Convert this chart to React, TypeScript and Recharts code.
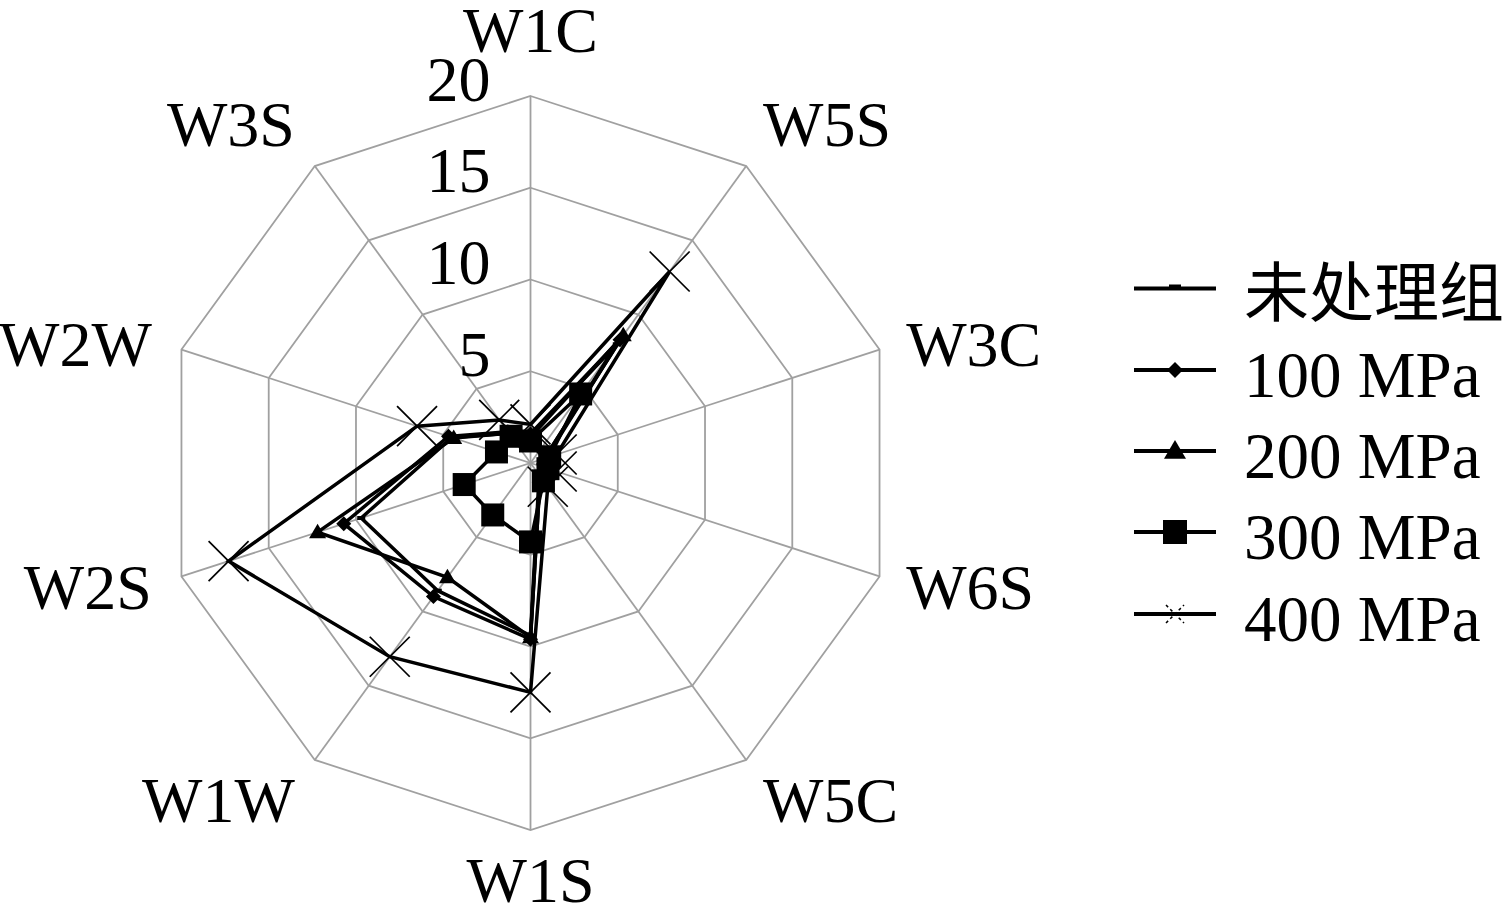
import React from 'react';
import { RadarChart, Radar, PolarGrid, PolarAngleAxis, PolarRadiusAxis, Legend } from 'recharts';

// ---------- data ----------
const categories = ['W1C', 'W5S', 'W3C', 'W6S', 'W5C', 'W1S', 'W1W', 'W2S', 'W2W', 'W3S'];
const untreated = [1.5, 8.0, 0.8, 0.7, 0.8, 9.4, 8.6, 9.7, 4.5, 2.0];
const mpa100 = [1.6, 8.3, 0.9, 0.8, 0.9, 9.6, 9.0, 10.7, 4.7, 2.1];
const mpa200 = [1.4, 8.6, 0.8, 0.8, 0.9, 9.5, 7.7, 12.2, 4.4, 2.0];
const mpa300 = [1.2, 4.65, 1.1, 1.0, 1.2, 4.3, 3.5, 3.8, 1.95, 1.8];
const mpa400 = [2.1, 12.9, 1.5, 1.5, 1.6, 12.5, 13.05, 17.3, 6.5, 2.9];
const seriesNames = ['未处理组', '100 MPa', '200 MPa', '300 MPa', '400 MPa'];
const seriesKeys = ['s0', 's1', 's2', 's3', 's4'];
const markerKinds = ['dash', 'diamond', 'triangle', 'square', 'cross'];
const radiusTicks = [0, 5, 10, 15, 20];

const seriesValues = [untreated, mpa100, mpa200, mpa300, mpa400];
const data = categories.map((name, i) => {
  const row: any = { name };
  seriesKeys.forEach((k, j) => {
    row[k] = seriesValues[j][i];
  });
  return row;
});

// ---------- layout ----------
const W = 1506;
const H = 912;
const CX = 530.5;
const CY = 463;
const R = 367;
const MAX = 20;
const FONT = '"Liberation Serif", "Times New Roman", "Noto Sans CJK SC", serif';
const GRID = '#a0a0a0';

function marker(kind: string, cx: number, cy: number, key: any, legend = false) {
  switch (kind) {
    case 'dash':
      return legend ? (
        <rect key={key} x={cx - 6} y={cy - 4} width={12} height={4} fill="#000" />
      ) : (
        <rect key={key} x={cx - 4} y={cy - 2} width={8} height={4} fill="#000" />
      );
    case 'diamond': {
      const s = legend ? 8 : 7.5;
      return (
        <polygon key={key} points={`${cx},${cy - s} ${cx + s},${cy} ${cx},${cy + s} ${cx - s},${cy}`} fill="#000" />
      );
    }
    case 'triangle': {
      const s = legend ? 11 : 8.5;
      return (
        <polygon key={key} points={`${cx},${cy - s} ${cx + s},${cy + s * 0.7} ${cx - s},${cy + s * 0.7}`} fill="#000" />
      );
    }
    case 'square': {
      const s = legend ? 12 : 11.5;
      return <rect key={key} x={cx - s} y={cy - s} width={2 * s} height={2 * s} fill="#000" />;
    }
    case 'cross': {
      const s = legend ? 9 : 20;
      return (
        <g key={key} stroke="#000" strokeWidth={legend ? 1.5 : 1.7} strokeDasharray={legend ? '3 3' : undefined}>
          <line x1={cx - s} y1={cy - s} x2={cx + s} y2={cy + s} />
          <line x1={cx - s} y1={cy + s} x2={cx + s} y2={cy - s} />
        </g>
      );
    }
    default:
      return <g key={key} />;
  }
}

const makeDot = (kind: string, sk: string) => (props: any) =>
  marker(kind, props.cx, props.cy, `${sk}-${props.index}`);

function AngleTick(props: any) {
  const { payload } = props;
  const theta = (payload.coordinate * Math.PI) / 180;
  const c = Math.cos(theta);
  const s = Math.sin(theta);
  const px = CX + c * (R + 27);
  const py = CY - s * (R + 27);
  let anchor: 'start' | 'end' | 'middle' = 'middle';
  let x = px;
  if (c > 0.1) {
    anchor = 'start';
    x = px + 1;
  } else if (c < -0.1) {
    anchor = 'end';
    x = px - 4;
  }
  let y = py + 3;
  if (s > 0.95) y = py - 39;
  else if (s < -0.95) y = py + 23;
  else if (s > 0.5) y = py - 20;
  else if (s < -0.5) y = py + 19;
  return (
    <text x={x} y={y} textAnchor={anchor} dominantBaseline="central" fontFamily={FONT} fontSize={64} fill="#000">
      {payload.value}
    </text>
  );
}

function RadiusTick(props: any) {
  const { payload, x, y } = props;
  if (payload.value === 0) return <g />;
  return (
    <text x={x - 40} y={y - 17} textAnchor="end" dominantBaseline="central" fontFamily={FONT} fontSize={64} fill="#000">
      {payload.value}
    </text>
  );
}

const legendTop = 240;
const legendLeft = 1120;
const legendRows = [288.5, 370, 451, 532, 614];

function LegendContent() {
  return (
    <svg width={386} height={440} style={{ display: 'block' }}>
      {seriesNames.map((name, i) => {
        const y = legendRows[i] - legendTop;
        return (
          <g key={name}>
            <line x1={14} y1={y} x2={96} y2={y} stroke="#000" strokeWidth={4} />
            {marker(markerKinds[i], 55, y, `lm-${i}`, true)}
            <text x={124} y={y + 5} dominantBaseline="central" fontFamily={FONT} fontSize={65} fill="#000">
              {name}
            </text>
          </g>
        );
      })}
    </svg>
  );
}

export default function App() {
  const gridRadii = [5, 10, 15, 20].map((v) => (v / MAX) * R);
  return (
    <div style={{ position: 'absolute', left: 0, top: 0, width: W, height: H, background: '#fff' }}>
      <RadarChart width={W} height={H} data={data} cx={CX} cy={CY} outerRadius={R} startAngle={90} endAngle={-270}>
        <PolarGrid gridType="polygon" stroke={GRID} strokeWidth={1.8} polarRadius={gridRadii} />
        <PolarAngleAxis dataKey="name" tick={<AngleTick />} tickLine={false} axisLine={false} />
        <PolarRadiusAxis
          angle={90}
          domain={[0, MAX]}
          ticks={radiusTicks}
          tickCount={5}
          tick={<RadiusTick />}
          axisLine={false}
          tickLine={false}
        />
        {seriesKeys.map((k, i) => (
          <Radar
            key={k}
            name={seriesNames[i]}
            dataKey={k}
            stroke="#000"
            strokeWidth={3.5}
            fill="none"
            fillOpacity={0}
            dot={makeDot(markerKinds[i], k)}
            isAnimationActive={false}
          />
        ))}
        <Legend
          content={<LegendContent />}
          wrapperStyle={{ position: 'absolute', left: legendLeft, top: legendTop, width: 386, height: 440 }}
        />
      </RadarChart>
    </div>
  );
}
